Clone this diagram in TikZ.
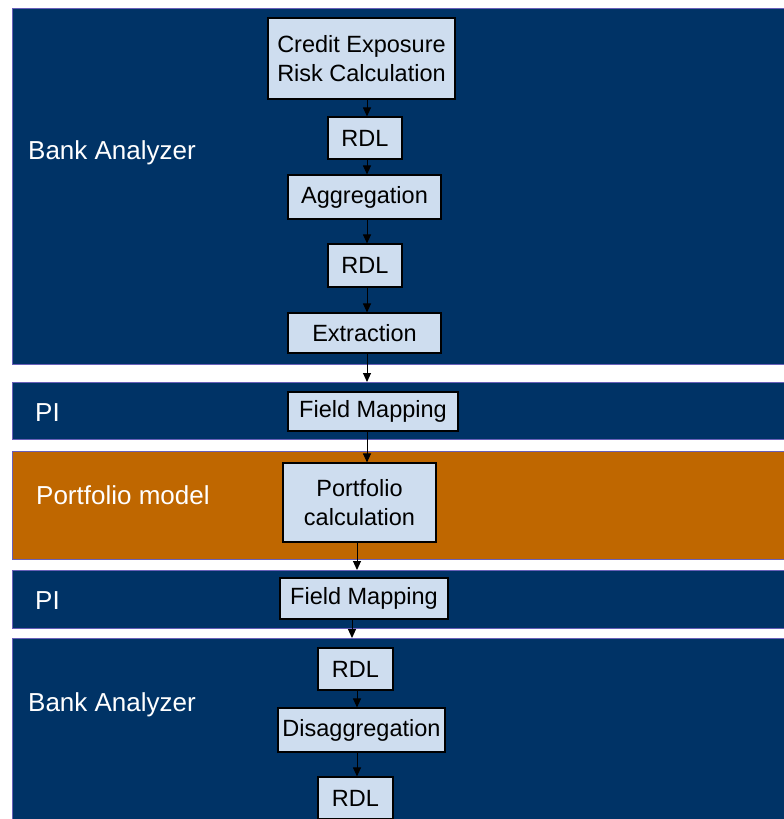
\documentclass[tikz,border=0pt]{standalone}
\usepackage{fontspec}
\setmainfont{Liberation Sans}
\usepackage{xcolor}
\usepackage{tikz}
\usetikzlibrary{arrows.meta}
\definecolor{navyband}{RGB}{0,51,102}
\definecolor{orangeband}{RGB}{191,103,0}
\definecolor{bandedge}{RGB}{104,96,184}
\definecolor{boxblue}{RGB}{206,221,239}
\tikzset{
  band/.style={draw=bandedge,line width=1pt,fill=#1,anchor=north west,inner sep=0pt},
  bandlabel/.style={text=white,anchor=base west,inner sep=0pt,font=\fontsize{26}{30}\selectfont},
  procbox/.style={draw=black,line width=1.1pt,fill=boxblue,inner sep=2pt,align=center,font=\fontsize{23.5}{29}\selectfont},
  flowarr/.style={line width=1pt,-{Triangle[length=9pt,width=8pt]}}
}
\newcommand{\sizedbox}[5]{\node[procbox,minimum width=#3,minimum height=#4] (#1) at #2 {#5};}

\begin{document}
\begin{tikzpicture}[x=1pt,y=-1pt]
\useasboundingbox (0,0) rectangle (784,819);
% swim lanes
\node[band=navyband,minimum width=790,minimum height=356] (baa) at (12,8) {};
\node[band=navyband,minimum width=790,minimum height=57] (pia) at (12,382) {};
\node[band=orangeband,minimum width=790,minimum height=108] (pm) at (12,451) {};
\node[band=navyband,minimum width=790,minimum height=58] (pib) at (12,570) {};
\node[band=navyband,minimum width=790,minimum height=200] (bab) at (12,638) {};
\node[bandlabel] (lba) at (28,159) {Bank Analyzer};
\node[bandlabel] (lpa) at (35,421) {PI};
\node[bandlabel] (lpm) at (36,504) {Portfolio model};
\node[bandlabel] (lpb) at (35,609) {PI};
\node[bandlabel] (lbb) at (28,711) {Bank Analyzer};
% process boxes
\sizedbox{ce}{(361.5,58.5)}{187}{81}{Credit Exposure\\Risk Calculation}
\sizedbox{rdla}{(365,138)}{74}{42}{RDL}
\sizedbox{agg}{(364.5,197)}{153}{44}{Aggregation}
\sizedbox{rdlb}{(365,265.5)}{74}{43}{RDL}
\sizedbox{extr}{(364.5,333)}{153}{40}{Extraction}
\sizedbox{fma}{(373,411.5)}{170}{39}{Field Mapping}
\sizedbox{port}{(359.5,502.5)}{153}{79}{Portfolio\\calculation}
\sizedbox{fmb}{(364,598.5)}{168}{41}{Field Mapping}
\sizedbox{rdlc}{(355.5,669)}{75}{42}{RDL}
\sizedbox{disagg}{(361.5,730)}{167}{44}{Disaggregation}
\sizedbox{rdld}{(355.5,798)}{75}{42}{RDL}
% flow
\coordinate (xa) at (367,0); \coordinate (xb) at (357,0); \coordinate (xc) at (352,0);
\draw[flowarr] (ce.south -| xa) -- (rdla.north -| xa);
\draw[flowarr] (rdla.south -| xa) -- (agg.north -| xa);
\draw[flowarr] (agg.south -| xa) -- (rdlb.north -| xa);
\draw[flowarr] (rdlb.south -| xa) -- (extr.north -| xa);
\draw[flowarr] (extr.south -| xa) -- (pia.north -| xa);
\draw[flowarr] (fma.south -| xa) -- (port.north -| xa);
\draw[flowarr] (port.south -| xb) -- (pib.north -| xb);
\draw[flowarr] (fmb.south -| xc) -- (bab.north -| xc);
\draw[flowarr] (rdlc.south -| xb) -- (disagg.north -| xb);
\draw[flowarr] (disagg.south -| xb) -- (rdld.north -| xb);
\end{tikzpicture}
\end{document}
